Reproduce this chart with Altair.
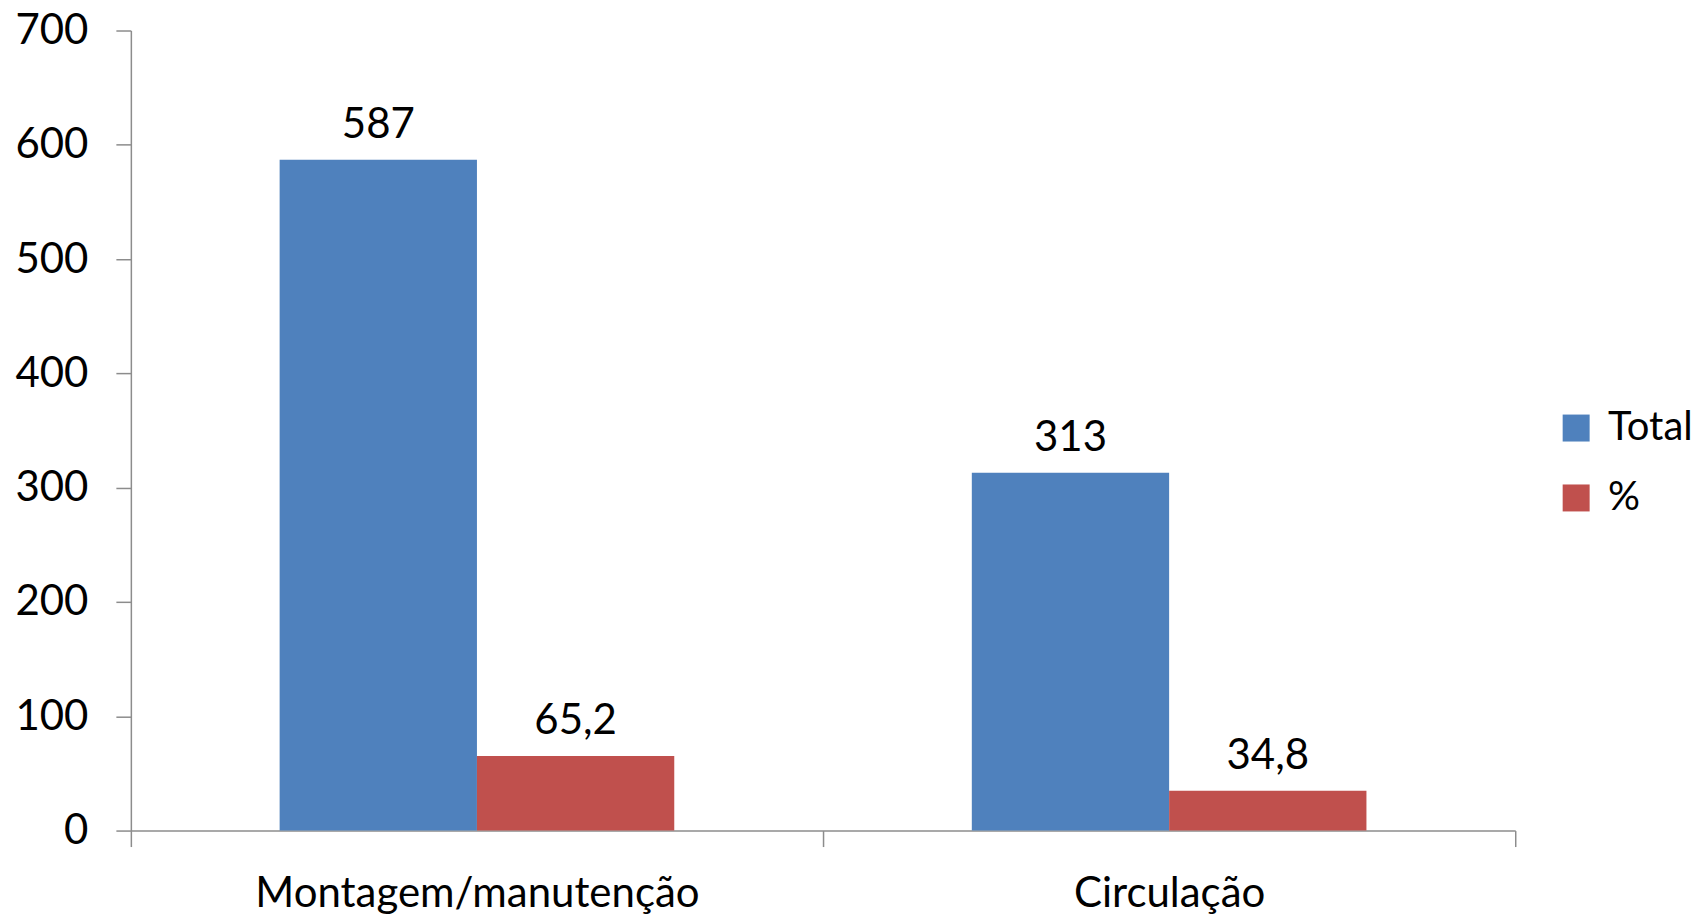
import altair as alt
import pandas as pd

categories = ["Montagem/manutenção", "Circulação"]
series = ["Total", "%"]
total_values = [587, 313]
pct_values = [65.2, 34.8]
total_labels = ["587", "313"]
pct_labels = ["65,2", "34,8"]
colors = ["#4F81BD", "#C0504D"]

rows = []
for i, c in enumerate(categories):
    rows.append({"categoria": c, "serie": series[0], "valor": total_values[i], "rotulo": total_labels[i]})
    rows.append({"categoria": c, "serie": series[1], "valor": pct_values[i], "rotulo": pct_labels[i]})
df = pd.DataFrame(rows)

FONT = "Lato"
FS = 42
AXIS_COLOR = "#8C8C8C"

x_enc = alt.X(
    "categoria:N",
    sort=categories,
    scale=alt.Scale(paddingInner=0, paddingOuter=0),
    axis=alt.Axis(
        title=None,
        labelAngle=0,
        labelLimit=0,
        labelFont=FONT,
        labelFontSize=FS,
        labelColor="black",
        labelPadding=27,
        tickBand="extent",
        tickSize=16,
        tickColor=AXIS_COLOR,
        domainColor=AXIS_COLOR,
        tickWidth=1.5,
        domainWidth=1.5,
    ),
)
xoff = alt.XOffset("serie:N", sort=series, scale=alt.Scale(domain=series, paddingInner=0, paddingOuter=0.754))
y_enc = alt.Y(
    "valor:Q",
    scale=alt.Scale(domain=[0, 700], nice=False),
    axis=alt.Axis(
        title=None,
        values=[0, 100, 200, 300, 400, 500, 600, 700],
        grid=False,
        labelFont=FONT,
        labelFontSize=FS,
        labelColor="black",
        labelPadding=28,
        tickSize=15,
        tickColor=AXIS_COLOR,
        domainColor=AXIS_COLOR,
        tickWidth=1.5,
        domainWidth=1.5,
    ),
)

bars = alt.Chart(df).mark_bar().encode(
    x=x_enc,
    xOffset=xoff,
    y=y_enc,
    color=alt.Color(
        "serie:N",
        sort=series,
        scale=alt.Scale(domain=series, range=colors),
        legend=alt.Legend(
            title=None,
            orient="none",
            legendX=1427,
            legendY=378,
            symbolType="square",
            symbolSize=729,
            symbolStrokeWidth=0,
            labelFont=FONT,
            labelFontSize=40,
            labelColor="black",
            labelOffset=12,
            labelLimit=0,
            rowPadding=30,
            padding=0,
        ),
    ),
)

text = alt.Chart(df).mark_text(
    font=FONT, fontSize=FS, color="black", baseline="alphabetic", dy=-22
).encode(
    x=alt.X("categoria:N", sort=categories),
    xOffset=alt.XOffset("serie:N", sort=series),
    y="valor:Q",
    text="rotulo:N",
)

chart = (
    alt.layer(bars, text)
    .properties(
        width=1386,
        height=801,
        autosize=alt.AutoSizeParams(type="none"),
        padding={"left": 123, "top": 22, "right": 185, "bottom": 88},
    )
    .configure_view(stroke=None)
)

chart.save("out.html", embed_options={"renderer": "svg", "actions": False})
